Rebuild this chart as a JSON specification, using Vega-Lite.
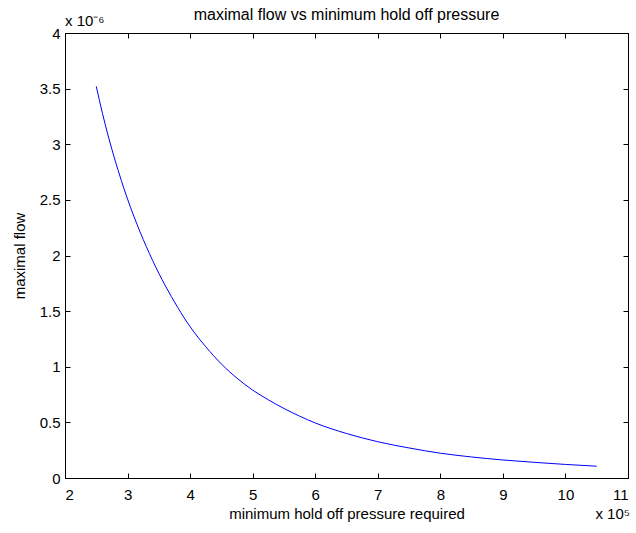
{
  "$schema": "https://vega.github.io/schema/vega-lite/v6.json",
  "autosize": "none",
  "width": 563,
  "height": 445,
  "padding": {"left": 65, "top": 33, "right": 8, "bottom": 55},
  "background": "white",
  "config": {
    "font": "Liberation Sans",
    "view": {"stroke": "black", "strokeWidth": 1},
    "axis": {"domainColor": "black", "tickColor": "black", "labelColor": "black", "titleColor": "black", "labelFont": "Liberation Sans", "titleFont": "Liberation Sans", "labelFontSize": 15, "titleFontSize": 15, "titleFontWeight": "normal", "grid": false, "tickSize": -5, "domainWidth": 1}
  },
  "title": {"text": "maximal flow vs minimum hold off pressure", "font": "Liberation Sans", "fontSize": 16, "fontWeight": "normal", "color": "black", "offset": -9},
  "data": {"values": [
    {"pressure": 2.5, "flow": 3.52},
    {"pressure": 2.6, "flow": 3.275},
    {"pressure": 2.7, "flow": 3.055},
    {"pressure": 2.8, "flow": 2.857},
    {"pressure": 2.9, "flow": 2.675},
    {"pressure": 3.0, "flow": 2.507},
    {"pressure": 3.1, "flow": 2.354},
    {"pressure": 3.2, "flow": 2.212},
    {"pressure": 3.3, "flow": 2.08},
    {"pressure": 3.4, "flow": 1.956},
    {"pressure": 3.5, "flow": 1.84},
    {"pressure": 3.6, "flow": 1.732},
    {"pressure": 3.8, "flow": 1.535},
    {"pressure": 4.0, "flow": 1.36},
    {"pressure": 4.25, "flow": 1.18},
    {"pressure": 4.5, "flow": 1.025},
    {"pressure": 4.75, "flow": 0.897},
    {"pressure": 5.0, "flow": 0.79},
    {"pressure": 5.25, "flow": 0.703},
    {"pressure": 5.5, "flow": 0.625},
    {"pressure": 5.75, "flow": 0.556},
    {"pressure": 6.0, "flow": 0.495},
    {"pressure": 6.5, "flow": 0.40},
    {"pressure": 7.0, "flow": 0.326},
    {"pressure": 7.5, "flow": 0.27},
    {"pressure": 8.0, "flow": 0.223},
    {"pressure": 8.5, "flow": 0.189},
    {"pressure": 9.0, "flow": 0.162},
    {"pressure": 9.5, "flow": 0.141},
    {"pressure": 10.0, "flow": 0.122},
    {"pressure": 10.5, "flow": 0.106}
  ]},
  "layer": [
    {
      "mark": {"type": "line", "color": "#0000FF", "strokeWidth": 1, "interpolate": "monotone"},
      "encoding": {
        "x": {"field": "pressure", "type": "quantitative", "scale": {"domain": [2, 11], "nice": false, "zero": false},
              "axis": {"title": "minimum hold off pressure required", "values": [2,3,4,5,6,7,8,9,10,11], "format": "~g", "labelPadding": 14, "titlePadding": 4, "orient": "bottom"}},
        "y": {"field": "flow", "type": "quantitative", "scale": {"domain": [0, 4], "nice": false},
              "axis": {"title": "maximal flow", "values": [0,0.5,1,1.5,2,2.5,3,3.5,4], "format": "~g", "labelPadding": 10, "titlePadding": 12, "orient": "left"}}
      }
    },
    {
      "mark": {"type": "line", "opacity": 0},
      "encoding": {
        "x": {"field": "pressure", "type": "quantitative", "axis": {"orient": "top", "labels": false, "title": null, "values": [2,3,4,5,6,7,8,9,10,11]}},
        "y": {"field": "flow", "type": "quantitative", "axis": {"orient": "right", "labels": false, "title": null, "values": [0,0.5,1,1.5,2,2.5,3,3.5,4]}}
      }
    },
    {
      "data": {"values": [{"note": "y"}]},
      "mark": {"type": "text", "text": "x 10⁻⁶", "align": "left", "baseline": "bottom", "dy": -4, "fontSize": 15, "font": "Liberation Sans", "color": "black", "clip": false},
      "encoding": {"x": {"datum": 2, "type": "quantitative", "axis": null}, "y": {"datum": 4, "type": "quantitative", "axis": null}}
    },
    {
      "data": {"values": [{"note": "x"}]},
      "mark": {"type": "text", "text": "x 10⁵", "align": "right", "baseline": "middle", "dy": 36, "dx": 2, "fontSize": 15, "font": "Liberation Sans", "color": "black", "clip": false},
      "encoding": {"x": {"datum": 11, "type": "quantitative", "axis": null}, "y": {"datum": 0, "type": "quantitative", "axis": null}}
    }
  ],
  "resolve": {"axis": {"x": "independent", "y": "independent"}}
}
